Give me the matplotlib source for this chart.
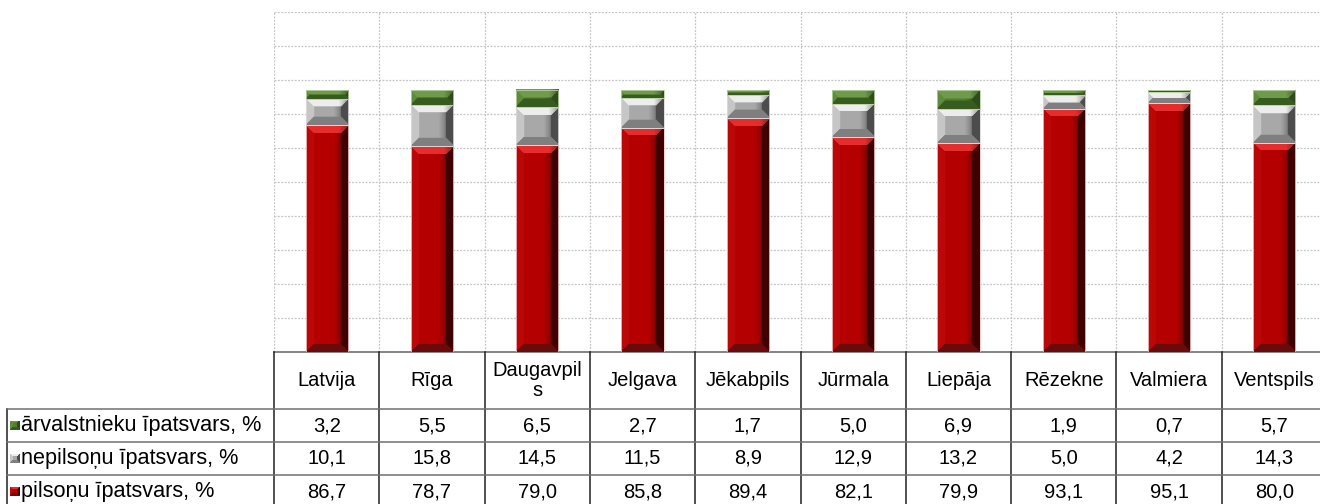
import numpy as np
import matplotlib
matplotlib.use("Agg")
import matplotlib.pyplot as plt
from matplotlib import transforms
from matplotlib.lines import Line2D
from matplotlib.patches import Rectangle

plt.rcParams['font.family'] = ['Liberation Sans', 'DejaVu Sans']

categories = ['Latvija', 'Rīga', 'Daugavpils', 'Jelgava', 'Jēkabpils',
              'Jūrmala', 'Liepāja', 'Rēzekne', 'Valmiera', 'Ventspils']
header_labels = ['Latvija', 'Rīga', 'Daugavpil\ns', 'Jelgava', 'Jēkabpils',
                 'Jūrmala', 'Liepāja', 'Rēzekne', 'Valmiera', 'Ventspils']
citizens = [86.7, 78.7, 79.0, 85.8, 89.4, 82.1, 79.9, 93.1, 95.1, 80.0]
noncitizens = [10.1, 15.8, 14.5, 11.5, 8.9, 12.9, 13.2, 5.0, 4.2, 14.3]
foreigners = [3.2, 5.5, 6.5, 2.7, 1.7, 5.0, 6.9, 1.9, 0.7, 5.7]
row_labels = ['ārvalstnieku īpatsvars, %', 'nepilsoņu īpatsvars, %', 'pilsoņu īpatsvars, %']

W, H = 1320, 504
fig = plt.figure(figsize=(W / 100, H / 100), dpi=100)
fig.patch.set_facecolor('white')

ax_left, ax_right, ax_top, ax_bottom = 274, 1327, 12, 352
ax = fig.add_axes([ax_left / W, (H - ax_bottom) / H, (ax_right - ax_left) / W, (ax_bottom - ax_top) / H])
ymax = 130
ax.set_xlim(-0.5, len(categories) - 0.5)
ax.set_ylim(0, ymax)
ax.set_yticks(np.arange(0, ymax + 1, 13))
ax.set_xticks(np.arange(-0.5, len(categories), 1.0))
ax.tick_params(left=False, labelleft=False, bottom=False, labelbottom=False)
ax.grid(True, color='#c4c4c4', linestyle=(0, (1.5, 1.2)), linewidth=0.9)
ax.set_axisbelow(True)
for s in ['top', 'right', 'left']:
    ax.spines[s].set_visible(False)
ax.spines['bottom'].set_color('#707070')
ax.spines['bottom'].set_linewidth(1.2)

px_per_unit = (ax_bottom - ax_top) / ymax
bar_w = 0.4
bar_wpx = int(round(bar_w * (ax_right - ax_left) / len(categories)))

palettes = {
    'red': dict(base=(0.71, 0.0, 0.0), top=(0.90, 0.18, 0.18), left=(0.73, 0.03, 0.03),
                right=(0.25, 0.0, 0.0), bottom=(0.42, 0.04, 0.04), edge=(0.95, 0.78, 0.78)),
    'gray': dict(base=(0.66, 0.66, 0.66), top=(0.93, 0.93, 0.93), left=(0.78, 0.78, 0.78),
                 right=(0.30, 0.30, 0.30), bottom=(0.50, 0.50, 0.50), edge=(0.86, 0.86, 0.86)),
    'green': dict(base=(0.33, 0.50, 0.20), top=(0.44, 0.61, 0.30), left=(0.37, 0.55, 0.23),
                  right=(0.18, 0.30, 0.10), bottom=(0.22, 0.36, 0.12), edge=(0.72, 0.82, 0.64)),
}


def bevel_image(pal, hpx, wpx, b=8):
    hh = max(int(round(hpx)), 1)
    img = np.ones((hh, wpx, 3)) * np.array(pal['base'])
    yy = np.arange(hh)[:, None] * np.ones((1, wpx))
    xx = np.ones((hh, 1)) * np.arange(wpx)[None, :]
    bb = min(b, hh / 2.0, wpx / 2.0)
    t = np.clip((xx / wpx - 0.62) / 0.38, 0, 1)
    shade = 1 - 0.72 * t ** 1.3
    img = img * shade[..., None]
    top = (yy < bb) & (xx >= yy) & (xx < wpx - yy)
    ry = hh - 1 - yy
    bottom = (ry < bb) & (xx >= ry) & (xx < wpx - ry) & ~top
    left = (xx < bb) & ~top & ~bottom
    right = (xx >= wpx - bb) & ~top & ~bottom
    img[top] = pal['top']
    img[bottom] = pal['bottom']
    img[left] = pal['left']
    img[right] = pal['right']
    img[top] = img[top] * (1 - 0.4 * np.clip((xx[top] / wpx - 0.75) / 0.25, 0, 1))[:, None]
    return np.clip(img, 0, 1)


series = [(citizens, 'red'), (noncitizens, 'gray'), (foreigners, 'green')]
x = np.arange(len(categories))
bottoms = np.zeros(len(categories))
for vals, pname in series:
    pal = palettes[pname]
    for i, v in enumerate(vals):
        y0 = bottoms[i]
        y1 = y0 + v
        img = bevel_image(pal, v * px_per_unit, bar_wpx)
        ax.imshow(img, extent=(x[i] - bar_w / 2, x[i] + bar_w / 2, y0, y1),
                  origin='upper', aspect='auto', interpolation='bilinear', zorder=3)
        ax.add_patch(Rectangle((x[i] - bar_w / 2, y0), bar_w, v, fill=False,
                               edgecolor=pal['edge'], linewidth=0.6, zorder=4))
    bottoms += np.array(vals)
ax.set_xlim(-0.5, len(categories) - 0.5)
ax.set_ylim(0, ymax)

# ---------- data table ----------
def fy(py):
    return (H - py) / H

trans = transforms.blended_transform_factory(ax.transData, fig.transFigure)
header_top, header_bot = ax_bottom, 409
row_h = 33
row_tops = [header_bot + k * row_h for k in range(4)]
table_left = 7
fs = 14.5

for k in range(len(categories) + 1):
    fig.add_artist(Line2D([k - 0.5, k - 0.5], [fy(header_top), fy(H + 5)],
                          transform=trans, color='#202020', linewidth=1.1))
fig.add_artist(Line2D([table_left / W, table_left / W], [fy(header_bot), fy(H + 5)],
                      transform=fig.transFigure, color='#202020', linewidth=1.1))
for py in row_tops:
    fig.add_artist(Line2D([table_left / W, 1.01], [fy(py), fy(py)],
                          transform=fig.transFigure, color='#707070', linewidth=1.1))

for i, lab in enumerate(header_labels):
    fig.text(x[i], fy((header_top + header_bot) / 2), lab, transform=trans,
             ha='center', va='center', fontsize=fs, linespacing=1.05, color='black')

table_rows = [foreigners, noncitizens, citizens]
marker_pals = ['green', 'gray', 'red']
for r, (lab, vals, pname) in enumerate(zip(row_labels, table_rows, marker_pals)):
    cy = fy(row_tops[r] + row_h / 2)
    pal = palettes[pname]
    mimg = bevel_image(pal, 10, 10, b=3)
    mx0, mx1 = 10, 20
    my = row_tops[r] + row_h / 2
    axm = fig.add_axes([mx0 / W, (H - my - 5) / H, (mx1 - mx0) / W, 10 / H])
    axm.imshow(mimg, aspect='auto', interpolation='nearest')
    axm.axis('off')
    fig.text(21 / W, cy, lab, ha='left', va='center', fontsize=15.6, color='black')
    for i, v in enumerate(vals):
        fig.text(x[i], cy, f"{v:.1f}".replace('.', ','), transform=trans,
                 ha='center', va='center', fontsize=fs, color='black')

fig.savefig('out.png', dpi=100)
